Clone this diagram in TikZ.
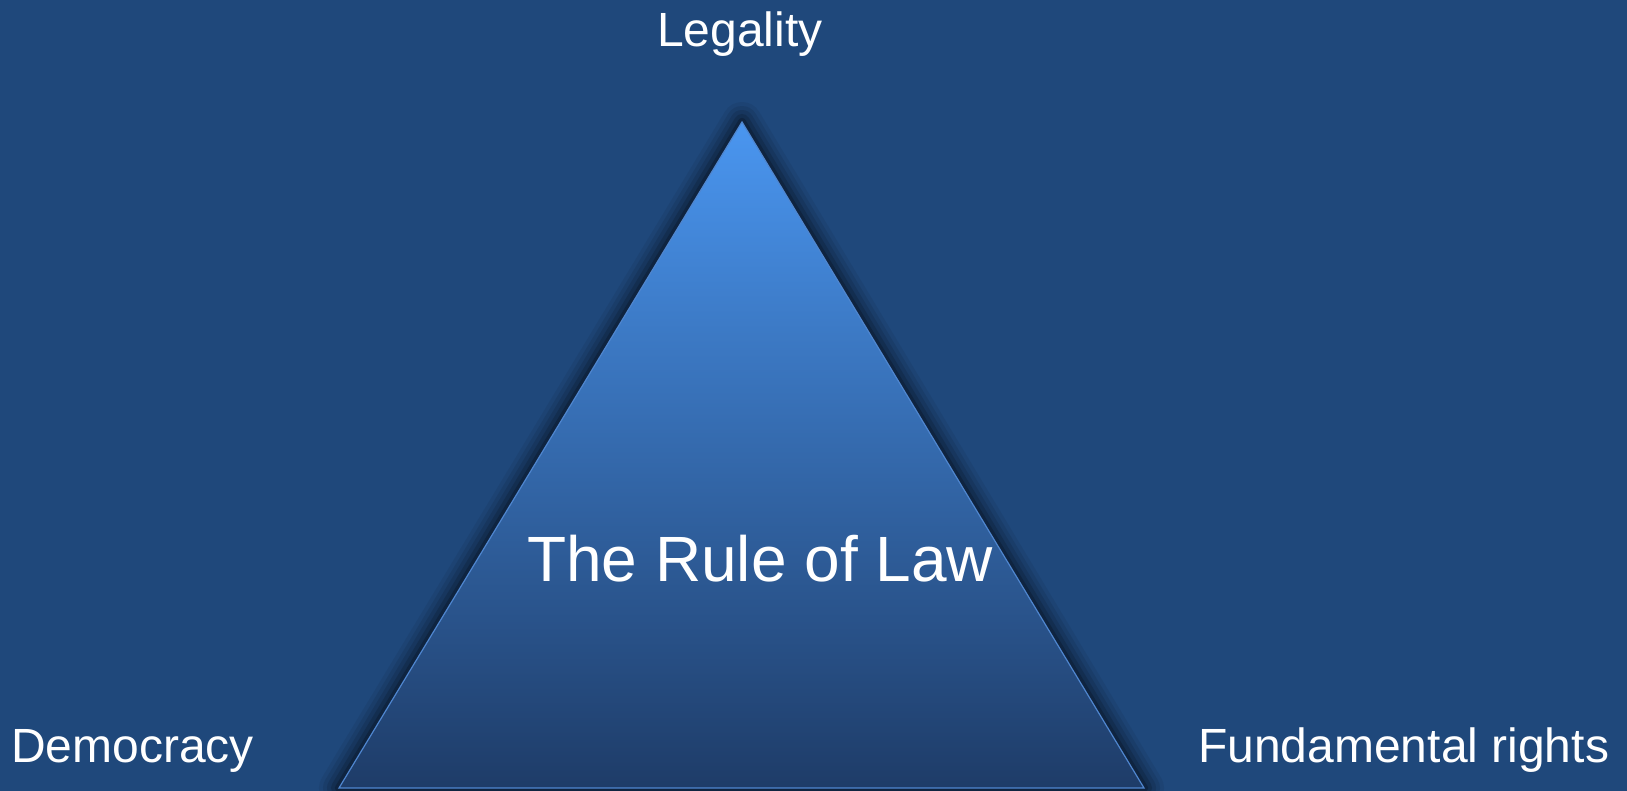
\documentclass[tikz,border=0pt]{standalone}
\usepackage{fontspec}
\setmainfont{Liberation Sans}
\definecolor{bgblue}{HTML}{1F487B}
\definecolor{tritop}{HTML}{4A96F0}
\definecolor{trimid}{HTML}{3C77C2}
\definecolor{tribot}{HTML}{1E3C68}
\definecolor{triedge}{HTML}{4F86CF}
\tikzset{
  label text/.style={text=white, inner sep=0pt, anchor=base west, font=\fontsize{48}{52}\selectfont},
  title text/.style={text=white, inner sep=0pt, anchor=base west, font=\fontsize{64}{70}\selectfont},
}
\begin{document}
\begin{tikzpicture}[x=1pt,y=1pt]
\useasboundingbox (0,0) rectangle (1627,791);
\fill[bgblue] (0,0) rectangle (1627,791);
\coordinate (apex) at (742,669);
\coordinate (bl) at (339,3);
\coordinate (br) at (1144,3);
% soft shadow
\begin{scope}[shift={(-13,6)}]
\foreach \w/\o in {40/0.06, 32/0.08, 24/0.10, 16/0.14, 8/0.20}{
  \draw[line width=\w pt, black, opacity=\o, line join=round] (apex) -- (bl) -- (br) -- cycle;
}
\fill[black, opacity=0.3] (apex) -- (bl) -- (br) -- cycle;
\end{scope}
% triangle
\shade[top color=tritop, middle color=trimid, bottom color=tribot] (apex) -- (bl) -- (br) -- cycle;
\draw[triedge, line width=1.2pt, line join=miter] (apex) -- (bl) -- (br) -- cycle;
% texts
\node[label text] (legality) at (657,744.3) {Legality};
\node[title text] (rol) at (527,209.3) {The Rule of Law};
\node[label text] (democracy) at (11,28) {Democracy};
\node[label text] (rights) at (1198,28) {Fundamental rights};
\end{tikzpicture}
\end{document}
